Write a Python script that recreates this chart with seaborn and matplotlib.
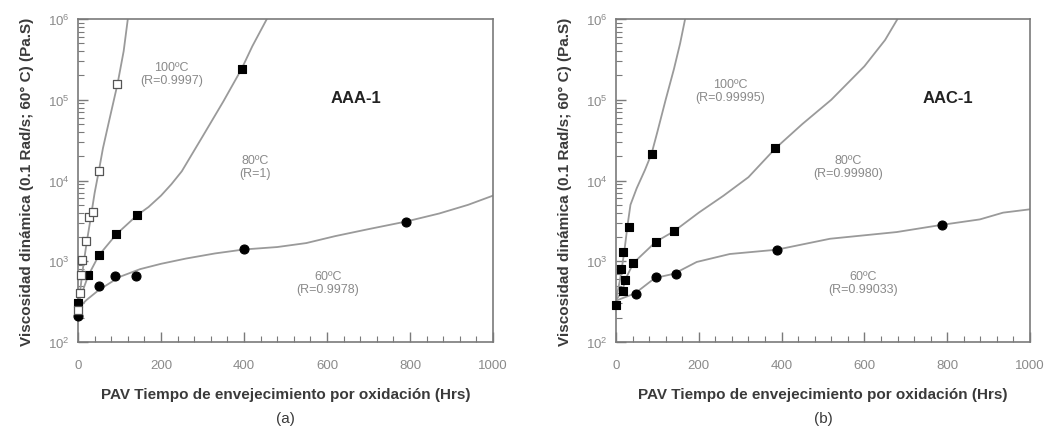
import numpy as np
import pandas as pd
import matplotlib
matplotlib.use("Agg")
import matplotlib.pyplot as plt
from matplotlib.ticker import FixedLocator, LogLocator, NullFormatter
import seaborn as sns

# ---------------- AAA-1 (panel a) ----------------
aaa_60_t = [0, 50, 90, 140, 400, 790]
aaa_60_v = [210, 490, 660, 650, 1400, 3100]
aaa_80_t = [0, 25, 50, 92, 142, 394]
aaa_80_v = [300, 670, 1180, 2150, 3700, 240000]
aaa_100_t = [0, 5, 8, 10, 20, 27, 37, 50, 95]
aaa_100_v = [250, 410, 670, 1050, 1800, 3500, 4100, 13000, 155000]

aaa_60_fit_t = [0, 20, 50, 100, 150, 200, 260, 330, 400, 480, 550, 620, 700, 790, 870, 940, 1000]
aaa_60_fit_v = [260, 330, 440, 640, 800, 930, 1080, 1250, 1400, 1500, 1680, 2050, 2500, 3100, 3900, 5000, 6500]
aaa_80_fit_t = [0, 25, 50, 92, 142, 170, 200, 225, 250, 300, 350, 394, 420, 455]
aaa_80_fit_v = [300, 670, 1180, 2150, 3700, 4700, 6500, 9000, 13000, 35000, 95000, 240000, 460000, 1000000]
aaa_100_fit_t = [0, 10, 20, 30, 40, 50, 60, 75, 95, 110, 120]
aaa_100_fit_v = [250, 700, 1600, 3300, 7000, 13000, 25000, 55000, 155000, 400000, 1000000]

# ---------------- AAC-1 (panel b) ----------------
aac_60_t = [48, 96, 144, 388, 788]
aac_60_v = [390, 645, 695, 1390, 2830]
aac_80_t = [0, 16, 22, 42, 96, 140, 385]
aac_80_v = [290, 430, 585, 950, 1740, 2350, 25000]
aac_100_t = [12, 18, 32, 86]
aac_100_v = [800, 1320, 2680, 21500]

aac_60_fit_t = [0, 46, 94, 140, 195, 275, 388, 517, 678, 788, 879, 935, 1000]
aac_60_fit_v = [325, 400, 620, 700, 980, 1230, 1390, 1900, 2300, 2830, 3300, 4000, 4400]
aac_80_fit_t = [0, 16, 22, 42, 96, 140, 200, 260, 320, 385, 450, 520, 600, 650, 680]
aac_80_fit_v = [330, 430, 585, 950, 1740, 2350, 4000, 6500, 11000, 25000, 50000, 100000, 260000, 550000, 1000000]
aac_100_fit_t = [0, 10, 20, 28, 35, 50, 70, 86, 100, 120, 140, 155, 167]
aac_100_fit_v = [330, 600, 1300, 2800, 5000, 8000, 13500, 21500, 40000, 100000, 240000, 500000, 1000000]

y_ticks = [1e2, 1e3, 1e4, 1e5, 1e6]
y_tick_labels = ["10$^2$", "10$^3$", "10$^4$", "10$^5$", "10$^6$"]
x_ticks = [0, 200, 400, 600, 800, 1000]

sns.set_theme(style="white")
plt.rcParams["font.family"] = ["Liberation Sans", "DejaVu Sans"]
plt.rcParams["mathtext.fontset"] = "custom"
plt.rcParams["mathtext.rm"] = "Liberation Sans"

LINE = "#9a9a9a"
SPINE = "#7a7a7a"
TXT = "#8a8a8a"
DARK = "#3a3a3a"


def frame(t, v):
    return pd.DataFrame({"t": t, "v": v})


fig = plt.figure(figsize=(10.6, 4.27), dpi=100)
ax_a = fig.add_axes([0.0736, 0.1967, 0.3915, 0.7564])
ax_b = fig.add_axes([0.5811, 0.1967, 0.3906, 0.7564])

panels = [
    (ax_a,
     [(aaa_60_fit_t, aaa_60_fit_v), (aaa_80_fit_t, aaa_80_fit_v), (aaa_100_fit_t, aaa_100_fit_v)],
     [(aaa_60_t, aaa_60_v, "o", "black"), (aaa_80_t, aaa_80_v, "s", "black"),
      (aaa_100_t, aaa_100_v, "s", "white")],
     "AAA-1", (670, 1.07e5),
     [("100ºC\n(R=0.9997)", 226, 2.1e5), ("80ºC\n(R=1)", 426, 1.5e4), ("60ºC\n(R=0.9978)", 602, 550)],
     "(a)"),
    (ax_b,
     [(aac_60_fit_t, aac_60_fit_v), (aac_80_fit_t, aac_80_fit_v), (aac_100_fit_t, aac_100_fit_v)],
     [(aac_60_t, aac_60_v, "o", "black"), (aac_80_t, aac_80_v, "s", "black"),
      (aac_100_t, aac_100_v, "s", "black")],
     "AAC-1", (802, 1.07e5),
     [("100ºC\n(R=0.99995)", 275, 1.3e5), ("80ºC\n(R=0.99980)", 560, 1.5e4), ("60ºC\n(R=0.99033)", 597, 550)],
     "(b)"),
]

for ax, fits, pts, name, name_xy, notes, tag in panels:
    ax.set_yscale("log")
    for t, v in fits:
        sns.lineplot(data=frame(t, v), x="t", y="v", ax=ax, color=LINE,
                     linewidth=1.3, estimator=None, sort=False, zorder=2)
    for t, v, mk, face in pts:
        if face == "white":
            size, edge, lw = 30, "#555555", 0.9
        elif mk == "s":
            size, edge, lw = 40, "black", 0.8
        else:
            size, edge, lw = 42, "black", 0.8
        sns.scatterplot(data=frame(t, v), x="t", y="v", ax=ax, marker=mk,
                        s=size, color=face, edgecolor=edge, linewidth=lw,
                        zorder=3, clip_on=False)
    ax.set_xlim(0, 1000)
    ax.set_ylim(1e2, 1e6)
    ax.xaxis.set_major_locator(FixedLocator(x_ticks))
    ax.xaxis.set_minor_locator(FixedLocator(np.arange(0, 1001, 40)))
    ax.set_xticklabels([str(x) for x in x_ticks])
    ax.yaxis.set_major_locator(FixedLocator(y_ticks))
    ax.set_yticklabels(y_tick_labels)
    ax.yaxis.set_minor_locator(LogLocator(base=10, subs=np.arange(2, 10)))
    ax.yaxis.set_minor_formatter(NullFormatter())
    ax.tick_params(axis="both", which="major", direction="in", length=7, width=1,
                   color=SPINE, labelcolor=TXT, labelsize=9.5,
                   bottom=True, left=True, top=False, right=False)
    ax.tick_params(axis="x", which="major", pad=12)
    ax.tick_params(axis="y", which="major", pad=6)
    ax.tick_params(axis="both", which="minor", direction="in", length=4, width=0.8,
                   color=SPINE, bottom=True, left=True, top=False, right=False)
    for s in ax.spines.values():
        s.set_color(SPINE)
        s.set_linewidth(1.2)
    ax.set_xlabel("PAV Tiempo de envejecimiento por oxidación (Hrs)", fontsize=11,
                  fontweight="bold", color=DARK, labelpad=12)
    ax.set_ylabel("Viscosidad dinámica (0.1 Rad/s; 60° C) (Pa.S)", fontsize=11,
                  fontweight="bold", color=DARK, labelpad=10)
    ax.text(0.5, -0.215, tag, transform=ax.transAxes, ha="center", va="top",
            fontsize=11, color=DARK)
    ax.text(name_xy[0], name_xy[1], name, ha="center", va="center", fontsize=12,
            fontweight="bold", color="#222222")
    for label, tx, ty in notes:
        ax.text(tx, ty, label, ha="center", va="center", fontsize=9,
                color=TXT, linespacing=1.1)

fig.savefig("out.png", dpi=100)
